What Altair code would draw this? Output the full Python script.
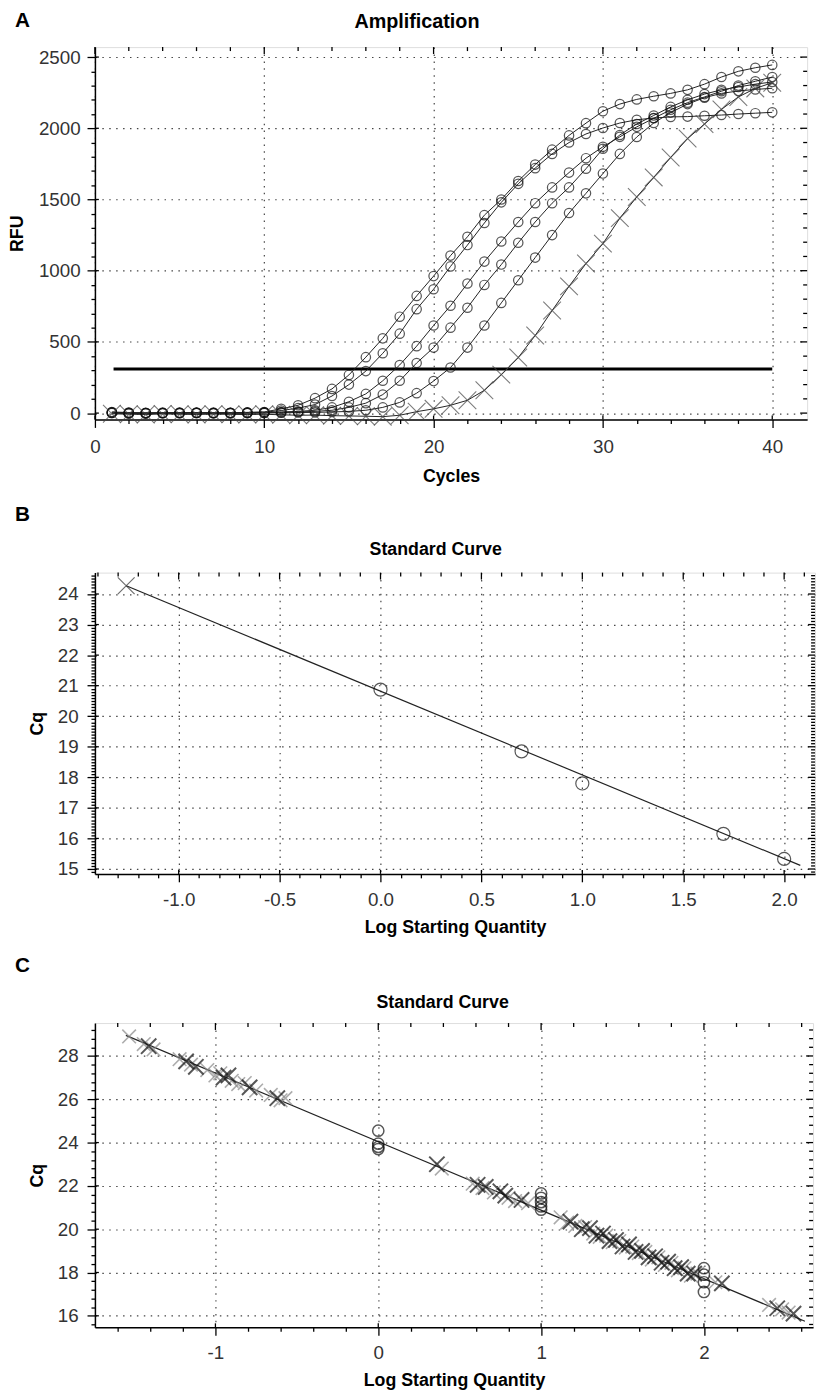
import altair as alt
import pandas as pd
import numpy as np

FONT = "Liberation Sans"
XPATH = "M-1,-1L1,1M-1,1L1,-1"

# ---------------- Panel A: Amplification ----------------
cycles = list(range(1, 41))
amp_c1 = [8, 4, 2, 3, 2, 4, 3, 2, 5, 8, 30, 55, 105, 170, 268, 393, 525, 677, 823, 962,
          1106, 1238, 1390, 1500, 1630, 1745, 1850, 1950, 2036, 2120, 2170, 2203, 2225, 2245, 2270,
          2310, 2360, 2400, 2425, 2445]
amp_c2 = [5, 2, 0, 1, 3, 2, 0, 2, 4, 6, 18, 35, 60, 120, 200, 295, 420, 558, 730, 870,
          1030, 1180, 1335, 1480, 1610, 1720, 1820, 1900, 1960, 2002, 2037, 2060, 2072, 2080, 2082,
          2088, 2093, 2100, 2106, 2112]
amp_c3 = [3, 0, -2, 1, 0, 2, 1, 0, 2, 3, 8, 12, 20, 40, 80, 135, 227, 338, 470, 615,
          754, 910, 1064, 1205, 1342, 1474, 1585, 1689, 1790, 1870, 1940, 2010, 2070, 2130, 2180,
          2220, 2260, 2300, 2330, 2360]
amp_c4 = [2, -2, 0, -1, 1, 0, -1, 1, 0, 2, 5, 8, 12, 20, 40, 70, 130, 227, 352, 460,
          600, 740, 900, 1043, 1196, 1342, 1474, 1585, 1716, 1856, 1953, 2030, 2090, 2150, 2200,
          2240, 2270, 2290, 2310, 2325]
amp_c5 = [0, -3, -2, 0, -1, 1, 0, -2, 0, 1, 2, 4, 5, 8, 12, 20, 40, 75, 140, 225,
          320, 460, 615, 774, 933, 1092, 1250, 1405, 1543, 1682, 1820, 1939, 2037, 2110, 2170,
          2215, 2245, 2262, 2273, 2281]
amp_x = [-5, -8, -10, -6, -8, -10, -7, -9, -10, -8, -12, -15, -14, -18, -20, -22, -25, -15, 10, 30,
         55, 90, 160, 270, 390, 545, 720, 890, 1050, 1190, 1369, 1518, 1655, 1795, 1928,
         2030, 2133, 2220, 2280, 2320]
threshold_cycles = [1.1, 40.0]
threshold_rfu = [310, 310]

# ---------------- Panel B: Standard Curve ----------------
b_std_logq = [0.0, 0.699, 1.0, 1.699, 2.0]
b_std_cq = [20.87, 18.85, 17.8, 16.15, 15.33]
b_unk_logq = [-1.26]
b_unk_cq = [24.27]
b_fit_logq = [-1.26, 2.08]
b_fit_cq = [24.27, 15.12]

# ---------------- Panel C: Standard Curve ----------------
c_fit_logq = [-1.55, 2.62]
c_fit_cq = [28.95, 15.75]
c_black_logq = [-1.41, -1.18, -1.12, -0.95, -0.92, -0.79, -0.62, 0.36, 0.61, 0.66, 0.75, 0.78, 0.88,
                1.18, 1.25, 1.3, 1.34, 1.38, 1.42, 1.46, 1.5, 1.54, 1.58, 1.62, 1.66, 1.7, 1.74,
                1.78, 1.82, 1.86, 1.9, 1.94, 2.11, 2.45, 2.55]
c_black_cq = [28.45, 27.75, 27.5, 27.0, 27.1, 26.55, 26.05, 23.0, 22.05, 21.95, 21.75, 21.55, 21.35,
              20.35, 20.0, 20.05, 19.7, 19.8, 19.45, 19.5, 19.2, 19.3, 18.95, 19.0, 18.7, 18.75, 18.45,
              18.5, 18.2, 18.25, 17.95, 17.95, 17.5, 16.35, 16.1]
c_gray_logq = [-1.53, -1.44, -1.38, -1.22, -1.15, -1.05, -1.0, -0.97, -0.9, -0.86, -0.82, -0.75, -0.66,
               -0.6, -0.57, 0.39, 0.58, 0.64, 0.71, 0.8, 0.84, 0.92, 1.12, 1.16, 1.21, 1.27, 1.32,
               1.36, 1.4, 1.44, 1.48, 1.52, 1.56, 1.6, 1.64, 1.68, 1.72, 1.76, 1.8, 1.84, 1.88, 1.92,
               1.96, 2.07, 2.4, 2.48, 2.52]
c_gray_cq = [28.9, 28.55, 28.3, 27.85, 27.6, 27.35, 27.1, 27.2, 26.85, 26.7, 26.75, 26.4, 26.2,
             25.95, 26.05, 22.8, 22.1, 21.9, 21.7, 21.45, 21.3, 21.2, 20.55, 20.3, 20.15, 20.1, 19.8,
             19.65, 19.7, 19.4, 19.45, 19.15, 19.2, 18.9, 18.95, 18.6, 18.7, 18.35, 18.45, 18.1, 18.2,
             17.85, 17.95, 17.55, 16.5, 16.3, 16.15]
c_std_logq = [0, 0, 0, 0, 1, 1, 1, 1, 1, 2, 2, 2, 2]
c_std_cq = [24.55, 23.95, 23.8, 23.7, 21.65, 21.45, 21.25, 21.05, 20.9, 18.2, 17.9, 17.55, 17.1]

# tick positions
a_x_ticks = list(range(0, 41, 2))
a_y_ticks = list(range(0, 2501, 100))
b_x_ticks = [float(v) for v in np.round(np.arange(-1.4, 2.15, 0.1), 1)]
b_y_ticks = [float(v) for v in np.round(np.arange(14.9, 24.65, 0.1), 1)]
c_x_ticks = [float(v) for v in np.round(np.arange(-1.6, 2.65, 0.2), 1)]
c_y_ticks = [float(v) for v in np.round(np.arange(15.6, 29.3, 0.4), 1)]

MINUS = "\u2212"


def cond(test, major, minor):
    return {"condition": {"test": test, "value": major}, "value": minor}


def make_axis(title, values, major_test, label_expr, label_pad, title_pad, fmt=None):
    kw = dict(
        title=title, values=values, labelExpr=label_expr,
        tickSize=cond(major_test, 8, 4), tickColor="black", tickWidth=1.3,
        grid=True, gridOpacity=cond(major_test, 1, 0), gridDash=[1.5, 5.5],
        gridColor="#444", gridWidth=1.2,
        domainColor="black", domainWidth=1.5,
        labelFont=FONT, labelFontSize=19, labelColor="#333", labelPadding=label_pad,
        labelFlush=False, labelOverlap=False,
        titleFont=FONT, titleFontSize=18, titleFontWeight="bold", titleColor="black",
        titlePadding=title_pad,
    )
    if fmt:
        kw["format"] = fmt
    return alt.Axis(**kw)


def letter(t, base_y):
    return alt.Chart(pd.DataFrame({"t": [t]})).mark_text(
        font=FONT, fontSize=21, fontWeight="bold", align="left", baseline="alphabetic",
        color="black"
    ).encode(text="t:N", x=alt.value(-81), y=alt.value(base_y))


def head(t, cx, base_y, size):
    return alt.Chart(pd.DataFrame({"t": [t]})).mark_text(
        font=FONT, fontSize=size, fontWeight="bold", align="center", baseline="alphabetic",
        color="black"
    ).encode(text="t:N", x=alt.value(cx), y=alt.value(base_y))


def frame_ticks(X, Y, xt, yt, xmaj, ymaj, W, H):
    """Inward ticks on the top and right frame, plus inner stubs of the major ticks."""
    dxM = pd.DataFrame({"x": [v for v in xt if xmaj(v)]})
    dxm = pd.DataFrame({"x": [v for v in xt if not xmaj(v)]})
    dyM = pd.DataFrame({"y": [v for v in yt if ymaj(v)]})
    dym = pd.DataFrame({"y": [v for v in yt if not ymaj(v)]})
    r = dict(color="black", strokeWidth=1.3)
    return [
        alt.Chart(dxM).mark_rule(**r).encode(x=X, y=alt.value(0), y2=alt.value(7)),
        alt.Chart(dxm).mark_rule(**r).encode(x=X, y=alt.value(0), y2=alt.value(4)),
        alt.Chart(dxM).mark_rule(**r).encode(x=X, y=alt.value(H), y2=alt.value(H - 4)),
        alt.Chart(dyM).mark_rule(**r).encode(y=Y, x=alt.value(W), x2=alt.value(W - 7)),
        alt.Chart(dym).mark_rule(**r).encode(y=Y, x=alt.value(W), x2=alt.value(W - 4)),
        alt.Chart(dyM).mark_rule(**r).encode(y=Y, x=alt.value(0), x2=alt.value(4)),
    ]


def near_mult(v, step):
    return abs(v / step - round(v / step)) < 1e-6


# ---------------- build A ----------------
rows = []
for name, vals in zip(["s1", "s2", "s3", "s4", "s5"], [amp_c1, amp_c2, amp_c3, amp_c4, amp_c5]):
    for c, v in zip(cycles, vals):
        rows.append({"x": c, "y": v, "s": name})
df_a_circ = pd.DataFrame(rows)
df_a_x = pd.DataFrame({"x": cycles, "y": amp_x})
df_a_thr = pd.DataFrame({"x": threshold_cycles, "y": threshold_rfu})

ax_a_x = make_axis("Cycles", a_x_ticks, "datum.value % 10 === 0",
                   "datum.value % 10 === 0 ? datum.label : ''", 10, 12)
ax_a_y = make_axis("RFU", a_y_ticks, "datum.value % 500 === 0",
                   "datum.value % 500 === 0 ? datum.label : ''", 7, 12, fmt="d")
XA = alt.X("x:Q", scale=alt.Scale(domain=[0, 42.06], nice=False, zero=False), axis=ax_a_x)
YA = alt.Y("y:Q", scale=alt.Scale(domain=[-45, 2570], nice=False, zero=False), axis=ax_a_y)
WA, HA = 721, 377

a_lines = alt.Chart(df_a_circ).mark_line(color="#222", strokeWidth=1).encode(x=XA, y=YA, detail="s:N")
a_pts = alt.Chart(df_a_circ).mark_point(shape="circle", size=90, filled=False, color="#111",
                                        strokeWidth=1.25).encode(x=XA, y=YA, detail="s:N")
a_xline = alt.Chart(df_a_x).mark_line(color="#222", strokeWidth=1).encode(x=XA, y=YA)
a_xpts = alt.Chart(df_a_x).mark_point(shape=XPATH, size=320, filled=False, color="#444",
                                      strokeWidth=1.1).encode(x=XA, y=YA)
a_thr = alt.Chart(df_a_thr).mark_line(color="black", strokeWidth=3).encode(x=XA, y=YA)

chart_a = alt.layer(
    *frame_ticks(XA, YA, a_x_ticks, a_y_ticks, lambda v: v % 10 == 0, lambda v: v % 500 == 0, WA, HA),
    a_thr, a_lines, a_xline, a_pts, a_xpts, letter("A", -20),
    head("Amplification", 326, -19, 20)).properties(width=WA, height=HA)

# ---------------- build B ----------------
half_test = "abs(datum.value*2 - round(datum.value*2)) < 0.001"
int_test = "abs(datum.value - round(datum.value)) < 0.001"
even_test = "abs(datum.value/2 - round(datum.value/2)) < 0.001"

ax_b_x = make_axis("Log Starting Quantity", b_x_ticks, half_test,
                   f"{half_test} ? replace(format(datum.value, '.1f'), '{MINUS}', '-') : ''", 9, 9)
ax_b_y = make_axis("Cq", b_y_ticks, int_test,
                   f"{int_test} ? format(datum.value, 'd') : ''", 9, 11)
XB = alt.X("x:Q", scale=alt.Scale(domain=[-1.415, 2.153], nice=False, zero=False), axis=ax_b_x)
YB = alt.Y("y:Q", scale=alt.Scale(domain=[14.84, 24.7], nice=False, zero=False), axis=ax_b_y)
WB, HB = 729, 305

df_b_fit = pd.DataFrame({"x": b_fit_logq, "y": b_fit_cq})
df_b_std = pd.DataFrame({"x": b_std_logq, "y": b_std_cq})
df_b_unk = pd.DataFrame({"x": b_unk_logq, "y": b_unk_cq})

b_fit = alt.Chart(df_b_fit).mark_line(color="#222", strokeWidth=1.2).encode(x=XB, y=YB)
b_std = alt.Chart(df_b_std).mark_point(shape="circle", size=175, filled=False, color="#111",
                                       strokeWidth=1.2).encode(x=XB, y=YB)
b_unk = alt.Chart(df_b_unk).mark_point(shape=XPATH, size=289, filled=False, color="#333",
                                       strokeWidth=1.2).encode(x=XB, y=YB)
chart_b = alt.layer(
    *frame_ticks(XB, YB, b_x_ticks, b_y_ticks, lambda v: near_mult(v, 0.5), lambda v: near_mult(v, 1), WB, HB),
    b_fit, b_std, b_unk, letter("B", -52),
    head("Standard Curve", 345, -18, 18)).properties(width=WB, height=HB)

# ---------------- build C ----------------
ax_c_x = make_axis("Log Starting Quantity", c_x_ticks, int_test,
                   f"{int_test} ? replace(format(datum.value, 'd'), '{MINUS}', '-') : ''", 9, 9)
ax_c_y = make_axis("Cq", c_y_ticks, even_test,
                   f"{even_test} ? format(datum.value, 'd') : ''", 9, 11)
XC = alt.X("x:Q", scale=alt.Scale(domain=[-1.74, 2.67], nice=False, zero=False), axis=ax_c_x)
YC = alt.Y("y:Q", scale=alt.Scale(domain=[15.47, 29.52], nice=False, zero=False), axis=ax_c_y)
WC, HC = 727, 308

df_c_fit = pd.DataFrame({"x": c_fit_logq, "y": c_fit_cq})
df_c_black = pd.DataFrame({"x": c_black_logq, "y": c_black_cq})
df_c_gray = pd.DataFrame({"x": c_gray_logq, "y": c_gray_cq})
df_c_std = pd.DataFrame({"x": c_std_logq, "y": c_std_cq})

c_fit = alt.Chart(df_c_fit).mark_line(color="#222", strokeWidth=1.2).encode(x=XC, y=YC)
c_gray = alt.Chart(df_c_gray).mark_point(shape=XPATH, size=190, filled=False, color="#8a8a8a",
                                         strokeWidth=1.6).encode(x=XC, y=YC)
c_black = alt.Chart(df_c_black).mark_point(shape=XPATH, size=240, filled=False, color="#111",
                                           strokeWidth=2).encode(x=XC, y=YC)
c_std = alt.Chart(df_c_std).mark_point(shape="circle", size=130, filled=False, color="#111",
                                       strokeWidth=1.5).encode(x=XC, y=YC)
chart_c = alt.layer(
    *frame_ticks(XC, YC, c_x_ticks, c_y_ticks, lambda v: near_mult(v, 1), lambda v: near_mult(v, 2), WC, HC),
    c_fit, c_gray, c_black, c_std, letter("C", -52),
    head("Standard Curve", 352, -15, 18)).properties(width=WC, height=HC)

chart = alt.vconcat(chart_a, chart_b, chart_c, spacing=17).properties(
    padding={"top": -7, "left": 0, "right": 0, "bottom": 0}
).configure_view(stroke="black", strokeWidth=1.5).configure(background="white")

chart.save("out.html", embed_options={"renderer": "svg", "actions": False})
